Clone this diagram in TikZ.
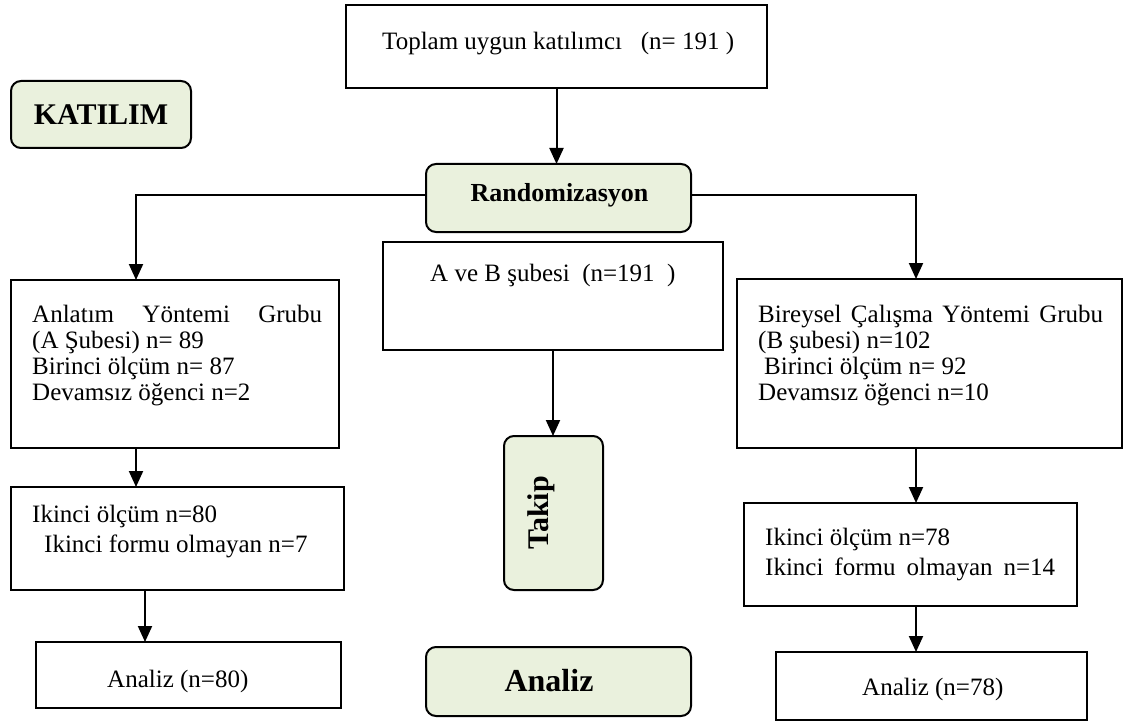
\documentclass[tikz,border=0pt]{standalone}
\usepackage{fontspec}
\setmainfont{Liberation Serif}
\usetikzlibrary{arrows.meta}
\definecolor{boxgreen}{HTML}{EAF1DD}
\begin{document}
\begin{tikzpicture}[x=1pt,y=-1pt,
  frame/.style={draw=black, line width=2pt, inner sep=0pt, outer sep=0pt},
  plainbox/.style={frame, rectangle},
  greenbox/.style={frame, rounded corners=10pt, fill=boxgreen},
  arr/.style={line width=2pt, -{Triangle[length=16pt,width=14pt]}},
  txt/.style={inner sep=0pt, anchor=base west, font=\fontsize{25}{30}\selectfont},
  btxt/.style={inner sep=0pt, font=\bfseries\fontsize{30}{34}\selectfont}]
\useasboundingbox[fill=white] (0,0) rectangle (1123,722);

% boxes
\node[plainbox, minimum width=421pt, minimum height=83pt] (top) at (556.5,46.5) {};
\node[greenbox, minimum width=180pt, minimum height=67pt, font=\bfseries\fontsize{30}{34}\selectfont] (katilim) at (101,114.5) {KATILIM};
\node[greenbox, minimum width=265pt, minimum height=68pt] (rand) at (558.5,198) {};
\node[plainbox, minimum width=340pt, minimum height=108pt] (ab) at (553,296) {};
\node[greenbox, minimum width=99pt, minimum height=154pt] (takip) at (553.5,513) {};
\node[plainbox, minimum width=328pt, minimum height=168pt] (lb1) at (175,364) {};
\node[plainbox, minimum width=385pt, minimum height=169pt] (rb1) at (929.5,363.5) {};
\node[plainbox, minimum width=333pt, minimum height=103pt] (lb2) at (177.5,538.5) {};
\node[plainbox, minimum width=305pt, minimum height=66pt] (lb3) at (188.5,675) {};
\node[greenbox, minimum width=265pt, minimum height=69pt] (an) at (558.5,681.5) {};
\node[plainbox, minimum width=333pt, minimum height=103pt] (rb2) at (910.5,554.5) {};
\node[plainbox, minimum width=311pt, minimum height=68pt] (rb3) at (931.5,686) {};

% texts
\node[txt] (t1) at (382,50) {Toplam uygun katılımcı\ \ \ (n= 191 )};
\node[btxt, font=\bfseries\fontsize{26}{30}\selectfont] (randtxt) at (559.5,195) {Randomizasyon};
\node[txt] (t2) at (430,281) {A ve B şubesi\ \ (n=191\ \ )};
\node[btxt, rotate=90] (takiptxt) at (541,513) {Takip};
\node[btxt, font=\bfseries\fontsize{32}{36}\selectfont] (antxt) at (549,681) {Analiz};

\node[txt] (l1a) at (32,322) {\makebox[290pt][s]{Anlatım Yöntemi Grubu}};
\node[txt] (l1b) at (32,348) {(A Şubesi) n= 89};
\node[txt] (l1c) at (32,374) {Birinci ölçüm n= 87};
\node[txt] (l1d) at (32,400) {Devamsız öğenci n=2};

\node[txt] (r1a) at (758,322) {\makebox[345pt][s]{Bireysel Çalışma Yöntemi Grubu}};
\node[txt] (r1b) at (758,348) {(B şubesi) n=102};
\node[txt] (r1c) at (764,374) {Birinci ölçüm n= 92};
\node[txt] (r1d) at (758,400) {Devamsız öğenci n=10};

\node[txt] (l2a) at (32,522) {Ikinci ölçüm n=80};
\node[txt] (l2b) at (44,552) {Ikinci formu olmayan n=7};

\node[txt] (r2a) at (765,545) {Ikinci ölçüm n=78};
\node[txt] (r2b) at (765,575) {\makebox[290pt][s]{Ikinci formu olmayan n=14}};

\node[txt] (l3) at (107,687) {Analiz (n=80)};
\node[txt] (r3) at (862,695) {Analiz (n=78)};

% connectors
\draw[arr] (top.south) -- (top.south |- rand.north);
\draw[arr] ([yshift=3pt]rand.west) -| ([xshift=-39pt]lb1.north);
\draw[arr] ([yshift=3pt]rand.east) -| ([xshift=-13.5pt]rb1.north);
\draw[arr] (ab.south) -- (ab.south |- takip.north);
\draw[arr] ([xshift=-39pt]lb1.south) -- ([xshift=-39pt]lb1.south |- lb2.north);
\draw[arr] ([xshift=-32.5pt]lb2.south) -- ([xshift=-32.5pt]lb2.south |- lb3.north);
\draw[arr] ([xshift=-13.5pt]rb1.south) -- ([xshift=-13.5pt]rb1.south |- rb2.north);
\draw[arr] ([xshift=5.5pt]rb2.south) -- ([xshift=5.5pt]rb2.south |- rb3.north);
\end{tikzpicture}
\end{document}
